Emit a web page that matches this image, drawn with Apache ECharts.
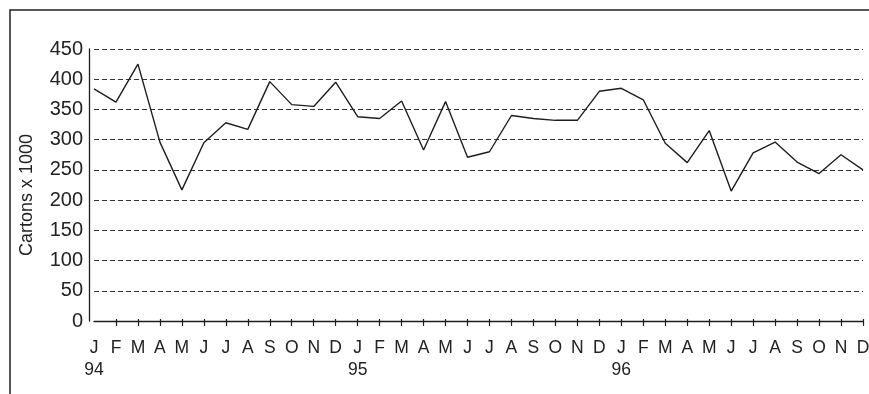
<!DOCTYPE html>
<html>
<head>
<meta charset="utf-8">
<script src="https://cdn.jsdelivr.net/npm/echarts@6/dist/echarts.min.js"></script>
<style>
html,body{margin:0;padding:0;background:#fff;}
#chart{width:869px;height:394px;}
</style>
</head>
<body>
<div id="chart"></div>
<script>
const months = ['J','F','M','A','M','J','J','A','S','O','N','D'];
const years = ['94','95','96'];
const values94 = [384, 362, 425, 296, 217, 295, 328, 317, 396, 358, 355, 395];
const values95 = [338, 335, 364, 283, 363, 271, 280, 340, 335, 332, 332, 380];
const values96 = [385, 366, 294, 262, 315, 215, 278, 296, 263, 244, 275, 250];
const yTicks = [0, 50, 100, 150, 200, 250, 300, 350, 400, 450];
const yName = 'Cartons x 1000';

const categories = [];
years.forEach(y => months.forEach((m, i) => categories.push(y + '-' + i)));
const values = values94.concat(values95, values96);

const font = '"Liberation Sans", Arial, Helvetica, sans-serif';
const ink = '#1e1e1e';

const chart = echarts.init(document.getElementById('chart'), null, {renderer: 'canvas'});
const tickFilter = (idx) => idx !== 0;
chart.setOption({
  backgroundColor: '#fff',
  animation: false,
  grid: {left: 94, right: 6, top: 49, bottom: 73, containLabel: false, outerBoundsMode: 'none'},
  xAxis: [{
    type: 'category',
    data: categories,
    boundaryGap: false,
    axisLine: {show: true, lineStyle: {color: ink, width: 1.3}},
    axisTick: {show: true, length: 5, interval: tickFilter, lineStyle: {color: ink, width: 1.2}},
    axisLabel: {
      interval: 0, margin: 16, color: '#222', fontSize: 17.5, fontFamily: font, lineHeight: 22,
      formatter: (v, idx) => {
        const parts = v.split('-');
        const mi = +parts[1];
        return months[mi] + (mi === 0 ? '\n' + parts[0] : '');
      }
    },
    splitLine: {show: false}
  }, {
    type: 'category',
    data: categories,
    boundaryGap: false,
    position: 'bottom',
    axisLine: {show: false},
    axisTick: {show: true, inside: true, length: 2, interval: tickFilter, lineStyle: {color: ink, width: 1.2}},
    axisLabel: {show: false},
    splitLine: {show: false}
  }],
  yAxis: {
    type: 'value',
    min: yTicks[0], max: yTicks[yTicks.length - 1], interval: 50,
    offset: 5,
    axisLine: {show: true, lineStyle: {color: ink, width: 1.3}},
    axisTick: {show: false},
    axisLabel: {color: '#222', fontSize: 20, fontFamily: font, margin: 6},
    splitLine: {show: true, lineStyle: {color: '#333', width: 1, type: [5, 3]}}
  },
  graphic: [{
    type: 'rect',
    shape: {x: 10, y: 10, width: 1000, height: 1000},
    style: {fill: 'none', stroke: '#222', lineWidth: 1.5},
    silent: true
  }, {
    type: 'text',
    x: 27, y: 195,
    rotation: Math.PI / 2,
    style: {text: yName, fontSize: 18, fontFamily: font, fill: '#222', textAlign: 'center', textVerticalAlign: 'middle'}
  }],
  series: [{
    type: 'line',
    data: values,
    xAxisIndex: 0,
    symbol: 'none',
    lineStyle: {color: ink, width: 1.4},
    z: 5
  }]
});
</script>
</body>
</html>
